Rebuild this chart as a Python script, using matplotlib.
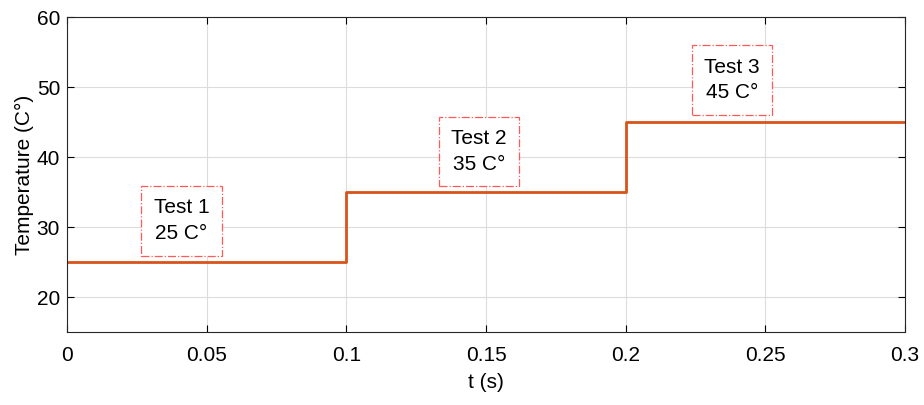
import matplotlib.pyplot as plt

plt.rcParams['font.family'] = ['Liberation Sans', 'DejaVu Sans']

# step profile
t = [0, 0.1, 0.1, 0.2, 0.2, 0.3]
temp = [25, 25, 35, 35, 45, 45]

labels = ['Test 1\n25 C°', 'Test 2\n35 C°', 'Test 3\n45 C°']
label_x = [0.041, 0.1475, 0.238]
label_y = [30.9, 40.8, 51.0]

xticks = [0, 0.05, 0.1, 0.15, 0.2, 0.25, 0.3]
xticklabels = ['0', '0.05', '0.1', '0.15', '0.2', '0.25', '0.3']
yticks = [20, 30, 40, 50, 60]

fig = plt.figure(figsize=(9.24, 4.05), dpi=100)
ax = fig.add_axes([0.0725, 0.180, 0.907, 0.778])

ax.plot(t, temp, color='#D95319', linewidth=2)

for s, x, y in zip(labels, label_x, label_y):
    ax.text(x, y, s, ha='center', va='center', fontsize=15, linespacing=1.45,
            bbox=dict(boxstyle='square,pad=0.6', fc='white', ec='#FF5A5A',
                      ls='-.', lw=0.9))

ax.set_xlim(0, 0.3)
ax.set_ylim(15, 60)
ax.set_xticks(xticks)
ax.set_xticklabels(xticklabels)
ax.set_yticks(yticks)
ax.tick_params(direction='in', labelsize=15, top=True, right=True, length=5, width=0.8)
ax.tick_params(axis='x', pad=10)
ax.tick_params(axis='y', pad=5)
ax.grid(True, color='#DCDCDC', linewidth=0.8)
ax.set_axisbelow(True)
for sp in ax.spines.values():
    sp.set_linewidth(0.8)
    sp.set_color('#262626')

ax.set_xlabel('t (s)', fontsize=15, labelpad=6)
ax.set_ylabel('Temperature (C°)', fontsize=15, labelpad=2)

fig.savefig('out.png', dpi=100)
